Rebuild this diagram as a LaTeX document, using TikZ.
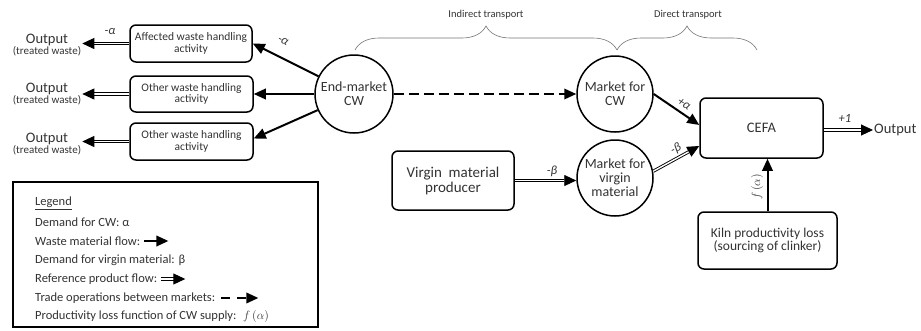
\documentclass[tikz,border=0pt]{standalone}
\usepackage{fontspec}
\setmainfont{Carlito}
\usetikzlibrary{arrows.meta,decorations.pathreplacing,calc}

\newcommand{\fs}[1]{\fontsize{#1}{#1}\selectfont}

\tikzset{
  box/.style={draw, line width=1.5pt, rounded corners=6pt, align=center,
    text=black!80, inner sep=2pt},
  mkt/.style={draw, circle, line width=1.5pt, align=center, inner sep=0pt,
    text=black!80, font=\fs{14}},
  plain/.style={text=black!80, inner sep=1pt},
  flow/.style={line width=2pt, -{Triangle[length=12pt,width=10.5pt]}},
  refflow/.style={double, double distance=1.4pt, line width=0.9pt,
    -{Triangle[length=12pt,width=11pt]}},
  trade/.style={line width=2pt, dash pattern=on 10pt off 5pt,
    -{Triangle[length=12pt,width=10.5pt]}},
  lbl/.style={text=black!80, inner sep=0pt, font=\itshape\fs{12.5}},
  brc/.style={draw=black!55, line width=0.6pt, decorate,
    decoration={brace, amplitude=24pt}},
  legtext/.style={anchor=west, text=black!80, inner sep=0pt, font=\fs{12.5}},
}

\begin{document}
\begin{tikzpicture}[x=1pt,y=-1pt]
\useasboundingbox (0,0) rectangle (921,330);

% waste handling activities
\node[box, minimum width=122pt, minimum height=37pt, font=\fs{11.5}] (aff) at (191,43.5)
  {Affected waste handling\\activity};
\node[box, minimum width=123pt, minimum height=36pt, font=\fs{11.5}] (oth1) at (191.5,94)
  {Other waste handling\\activity};
\node[box, minimum width=123pt, minimum height=37pt, font=\fs{11.5}] (oth2) at (191.5,141.5)
  {Other waste handling\\activity};

% outputs of the waste handling activities
\node[plain, align=center] (out1) at (47,45) {{\fs{14.5}Output}\\[-1pt]{\fs{11}(treated waste)}};
\node[plain, align=center] (out2) at (47,94) {{\fs{14.5}Output}\\[-1pt]{\fs{11}(treated waste)}};
\node[plain, align=center] (out3) at (47,144) {{\fs{14.5}Output}\\[-1pt]{\fs{11}(treated waste)}};

% markets
\node[mkt, minimum size=78pt] (em) at (354,94) {End-market\\CW};
\node[mkt, minimum size=76pt] (mcw) at (615,94) {Market for\\CW};
\node[mkt, minimum size=76pt] (mv) at (615,178) {Market for\\virgin\\material};

% producers and the cement process
\node[box, minimum width=122pt, minimum height=59pt, font=\fs{15}] (prod) at (453,180.5)
  {Virgin\ \ material\\producer};
\node[box, minimum width=123pt, minimum height=60pt, font=\fs{14.5}] (cefa) at (761.5,128) {CEFA};
\node[box, minimum width=139pt, minimum height=57pt, font=\fs{13.5}] (kiln) at (767.5,240.5)
  {Kiln productivity loss\\(sourcing of clinker)};
\node[plain, anchor=west, font=\fs{14.5}] (out4) at (873,130) {Output};

% transport braces
\draw[brc] (355,50) -- (617,50);
\draw[brc] (617,50) -- (757,50);
\node[plain, font=\fs{10.5}] (ind) at (486,15) {Indirect transport};
\node[plain, font=\fs{10.5}] (dir) at (688,15) {Direct transport};

% flows from the end market
\draw[flow] (em) -- (aff.east);
\draw[flow] (em.west) -- (oth1.east);
\draw[flow] (em) -- ($(oth2.east)+(0,-3)$);
\node[lbl, rotate=-28] (la1) at (283,41) {-α};

% treated waste outputs
\draw[refflow] (aff.west) -- (aff.west -| out1.east);
\draw[refflow] (oth1.west) -- (oth1.west -| out2.east);
\draw[refflow] (oth2.west) -- (oth2.west -| out3.east);
\node[lbl] (la0) at (110,32) {-α};

% trade between markets
\draw[trade] (em.east) -- (mcw.west);

% supply to the cement process
\coordinate (cin1) at ($(cefa.west)+(0,-3)$);
\coordinate (cin2) at ($(cefa.west)+(0,18)$);
\draw[flow] (mcw.east) -- (cin1);
\node[lbl, rotate=-33] (la2) at (684,104) {+α};
\draw[refflow] (mv.10) -- (cin2);
\node[lbl, rotate=27] (lb2) at (676,149) {-β};
\draw[refflow] (prod.east) -- (prod.east -| mv.west);
\node[lbl] (lb1) at (552,171) {-β};
\draw[flow] (kiln.north) -- (kiln.north |- cefa.south);
\node[lbl, rotate=90] (lf) at (757,187) {$f\,(\alpha)$};
\draw[refflow] (cefa.east |- out4.west) -- (out4.west);
\node[lbl] (l1) at (845,118) {+1};

% legend
\draw[line width=1.8pt] (13,182) rectangle (318,327);
\node[legtext] (lg0) at (35,203) {\underline{Legend}};
\node[legtext] (lg1) at (35,222) {Demand for CW: α};
\node[legtext] (lg2) at (35,241) {Waste material flow:};
\node[legtext] (lg3) at (35,260) {Demand for virgin material: β};
\node[legtext] (lg4) at (35,279) {Reference product flow:};
\node[legtext] (lg5) at (35,298) {Trade operations between markets:};
\node[legtext] (lg6) at (35,316) {Productivity loss function of CW supply: \ $f\,(\alpha)$};
\coordinate (lw0) at ($(lg2.east)+(4,0)$);
\coordinate (lw1) at ($(lw0)+(24,0)$);
\draw[flow] (lw0) -- (lw1);
\coordinate (lr0) at ($(lg4.east)+(4,0)$);
\coordinate (lr1) at ($(lr0)+(24,0)$);
\draw[refflow] (lr0) -- (lr1);
\coordinate (lt0) at ($(lg5.east)+(6,0)$);
\coordinate (lt1) at ($(lt0)+(37,0)$);
\draw[trade, dash pattern=on 9pt off 7pt] (lt0) -- (lt1);
\end{tikzpicture}
\end{document}
